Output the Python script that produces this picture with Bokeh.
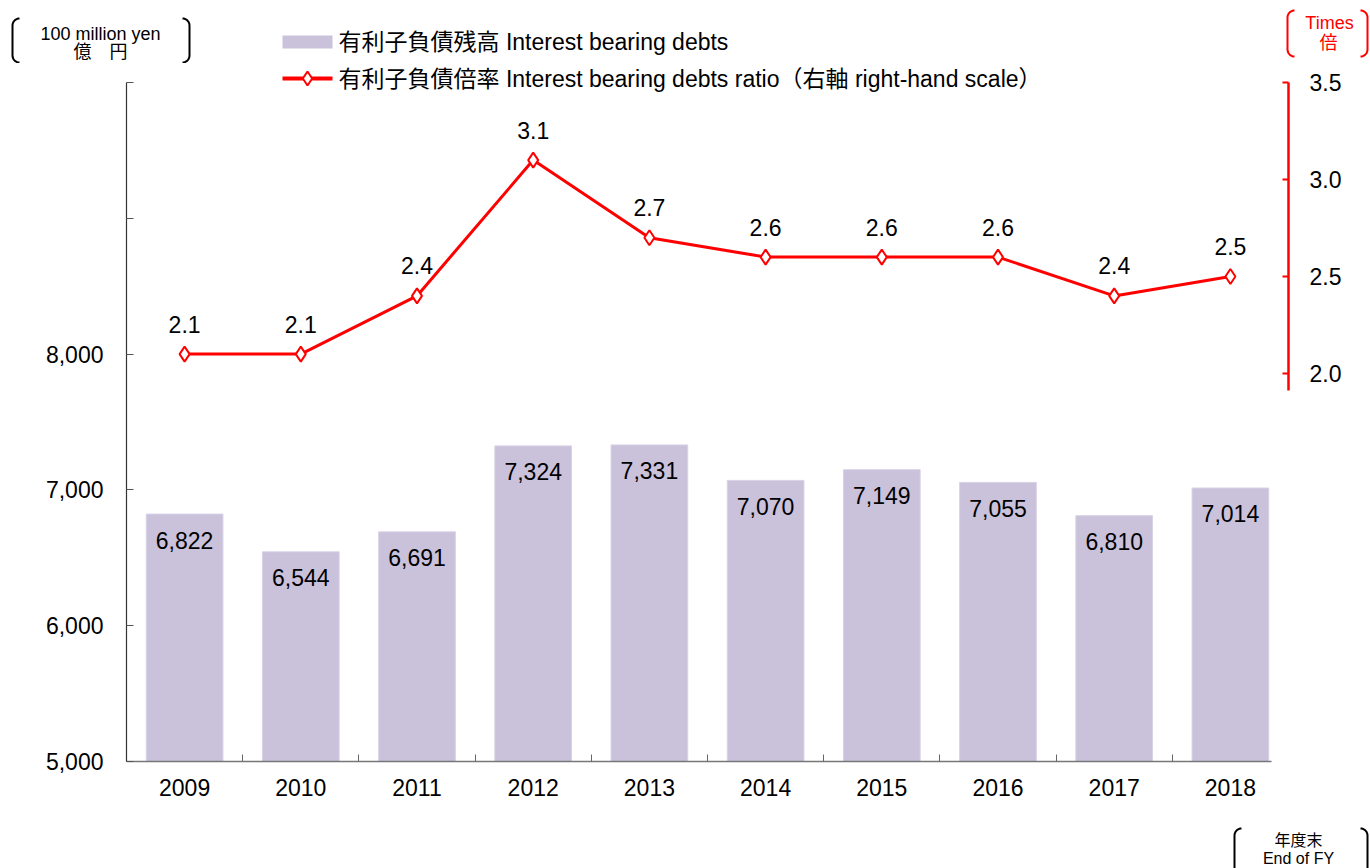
import math
from bokeh.plotting import figure
from bokeh.layouts import column
from bokeh.models import (ColumnDataSource, Range1d, LinearAxis, FixedTicker,
                          NumeralTickFormatter)
from bokeh.core.properties import value
from bokeh.embed import file_html
from bokeh.resources import INLINE

years = ["2009", "2010", "2011", "2012", "2013", "2014", "2015", "2016", "2017", "2018"]
debts = [6822, 6544, 6691, 7324, 7331, 7070, 7149, 7055, 6810, 7014]
ratio = [2.1, 2.1, 2.4, 3.1, 2.7, 2.6, 2.6, 2.6, 2.4, 2.5]
left_ticks = [5000, 6000, 7000, 8000, 9000, 10000]
right_ticks = [2.0, 2.5, 3.0, 3.5]
legend_labels = ["有利子負債残高 Interest bearing debts",
                 "有利子負債倍率 Interest bearing debts ratio（右軸 right-hand scale）"]

FONT = "'Liberation Sans', Arial, 'Noto Sans CJK JP', sans-serif"
FS = "23px"
BAR_COLOR = "#CAC1DB"
BAR_EDGE = "#D9D2E6"
RED = "#FF0000"
W = 1370
TOP_H, BOT_H = 63, 42          # page y: top strip 0..63, bottom strip 826..868
FL, FW = 126, 1162             # frame left / width (page x)
Y_AX_TOP, Y_AX_BOT = 82, 761   # page y of the 10000 / 5000 levels
MAIN_H = 868 - TOP_H - BOT_H
MAIN_BOT = MAIN_H - (Y_AX_BOT - TOP_H)
FH = Y_AX_BOT - TOP_H
LEFT_MIN, LEFT_MAX = 5000, 10000
RIGHT_MIN, RIGHT_MAX = 0.0, 3.5


def no_align(f):
    try:
        f.frame_align = False
    except Exception:
        pass


def strip(h):
    s = figure(width=W, height=h, x_range=Range1d(0, W), y_range=Range1d(h, 0),
               x_axis_type=None, y_axis_type=None, output_backend="svg",
               toolbar_location=None, min_border=0, min_border_left=0,
               min_border_right=0, min_border_top=0, min_border_bottom=0)
    s.outline_line_color = None
    s.xgrid.visible = False
    s.ygrid.visible = False
    no_align(s)
    return s


def bracket(fig, xo, xi, yt, yb, color, r=7, **kw):
    sgn = 1 if xi > xo else -1
    xs, ys = [], []
    n = 10
    for k in range(n + 1):
        a = math.pi / 2 * k / n
        xs.append(xo + sgn * r * (1 - math.sin(a)))
        ys.append(yt + r * (1 - math.cos(a)))
    for k in range(n + 1):
        a = math.pi / 2 * k / n
        xs.append(xo + sgn * r * (1 - math.cos(a)))
        ys.append(yb - r + r * math.sin(a))
    fig.line(xs, ys, line_color=color, line_width=2, **kw)


def text(fig, x, y, t, size, color="black", align="center", **kw):
    fig.text(x=[x], y=[y], text=[t], text_align=align, text_baseline="middle",
             text_font=value(FONT), text_font_size=size, text_color=color, **kw)


# ---------------- top strip: unit labels and first legend row ----------------
top = strip(TOP_H)
top.quad(left=[282], right=[332], top=[35], bottom=[48],
         fill_color=BAR_COLOR, line_color=None)
text(top, 338, 41, legend_labels[0], FS, align="left")

text(top, 100, 33, "100 million yen", "18px")
text(top, 100, 51, "億　円", "18px")
bracket(top, 12, 20, 18, 62, "black")
bracket(top, 189, 181, 18, 62, "black")
text(top, 1329, 22, "Times", "18px", RED)
text(top, 1328, 42, "倍", "18px", RED)
bracket(top, 1287, 1295, 10, 56, RED)
bracket(top, 1367, 1359, 10, 56, RED)

# ---------------- main chart ----------------
idx = list(range(len(years)))
src = ColumnDataSource(dict(
    x=idx, debts=debts, ratio=ratio,
    dlab=[f"{v:,}" for v in debts],
    rlab=[f"{v:.1f}" for v in ratio],
))

# frame extends above the 10000 level up to the top of this figure
px_left = (Y_AX_BOT - Y_AX_TOP) / (LEFT_MAX - LEFT_MIN)
px_right = (Y_AX_BOT - Y_AX_TOP) / (RIGHT_MAX - RIGHT_MIN)
extra_px = Y_AX_TOP - TOP_H
p = figure(width=W, height=MAIN_H, frame_width=FW, frame_height=FH,
           x_range=Range1d(-0.5, len(years) - 0.5),
           y_range=Range1d(LEFT_MIN, LEFT_MAX + extra_px / px_left),
           output_backend="svg", toolbar_location=None,
           min_border_left=FL, min_border_right=W - FL - FW,
           min_border_top=0, min_border_bottom=MAIN_BOT)
no_align(p)
p.extra_y_ranges = {"right": Range1d(RIGHT_MIN, RIGHT_MAX + extra_px / px_right),
                    "sy": Range1d(Y_AX_BOT, TOP_H)}
p.extra_x_ranges = {"sx": Range1d(FL, FL + FW)}
p.outline_line_color = None
p.xgrid.visible = False
p.ygrid.visible = False

p.vbar(x="x", top="debts", bottom=LEFT_MIN, width=0.66, source=src,
       fill_color=BAR_COLOR, line_color=BAR_EDGE, line_width=1)
p.line(x="x", y="ratio", source=src, y_range_name="right", line_color=RED, line_width=3)
p.scatter(x="x", y="ratio", source=src, y_range_name="right", marker="diamond",
          size=15, fill_color="white", line_color=RED, line_width=2)

p.text(x="x", y="debts", text="dlab", source=src, y_offset=26,
       text_align="center", text_baseline="middle",
       text_font=value(FONT), text_font_size=FS, text_color="black")
p.text(x="x", y="ratio", text="rlab", source=src, y_range_name="right", y_offset=-30,
       text_align="center", text_baseline="middle",
       text_font=value(FONT), text_font_size=FS, text_color="black")

# second legend row (sits just above the 10000 level, inside this figure)
p.line([282, 332], [78, 78], x_range_name="sx", y_range_name="sy",
       line_color=RED, line_width=4)
p.scatter([307], [78], x_range_name="sx", y_range_name="sy", marker="diamond",
          size=14, fill_color="white", line_color=RED, line_width=2)
text(p, 338, 78, legend_labels[1], FS, align="left",
     x_range_name="sx", y_range_name="sy")

xa = p.xaxis[0]
xa.ticker = FixedTicker(ticks=idx, minor_ticks=[i + 0.5 for i in idx[:-1]])
xa.major_label_overrides = {i: y for i, y in zip(idx, years)}
xa.major_tick_in = 0
xa.major_tick_out = 0
xa.minor_tick_in = 7
xa.minor_tick_out = 0
xa.minor_tick_line_color = "#666666"
xa.axis_line_color = "#777777"
xa.axis_line_width = 1.5
xa.bounds = (-0.5, 9.35)
xa.major_label_text_font = FONT
xa.major_label_text_font_size = FS
xa.major_label_text_color = "black"
xa.major_label_standoff = 17

ya = p.yaxis[0]
ya.ticker = FixedTicker(ticks=left_ticks, minor_ticks=[])
ya.formatter = NumeralTickFormatter(format="0,0")
ya.major_label_overrides = {9000: "", 10000: ""}
ya.bounds = (LEFT_MIN, LEFT_MAX)
ya.major_tick_in = 7
ya.major_tick_out = 0
ya.major_tick_line_color = "#555555"
ya.axis_line_color = "#333333"
ya.axis_line_width = 1.2
ya.major_label_text_font = FONT
ya.major_label_text_font_size = FS
ya.major_label_text_color = "black"
ya.major_label_standoff = 23

ra = LinearAxis(y_range_name="right", ticker=FixedTicker(ticks=right_ticks, minor_ticks=[]),
                formatter=NumeralTickFormatter(format="0.0"), bounds=(1.91, 3.5))
ra.axis_line_color = RED
ra.axis_line_width = 2.5
ra.major_tick_in = 6
ra.major_tick_out = 0
ra.major_tick_line_color = RED
ra.major_tick_line_width = 2
ra.minor_tick_line_color = None
ra.major_label_text_font = FONT
ra.major_label_text_font_size = FS
ra.major_label_text_color = "black"
ra.major_label_standoff = 21
p.add_layout(ra, "right")

# ---------------- bottom strip: axis unit ----------------
bot = strip(BOT_H)
text(bot, 1298, 14, "年度末", "16px")
text(bot, 1298, 32, "End of FY", "16px")
bracket(bot, 1234, 1242, 2, 60, "black")
bracket(bot, 1367, 1359, 2, 60, "black")

layout = column(top, p, bot, spacing=0)
open("out.html", "w").write(file_html(layout, INLINE))
